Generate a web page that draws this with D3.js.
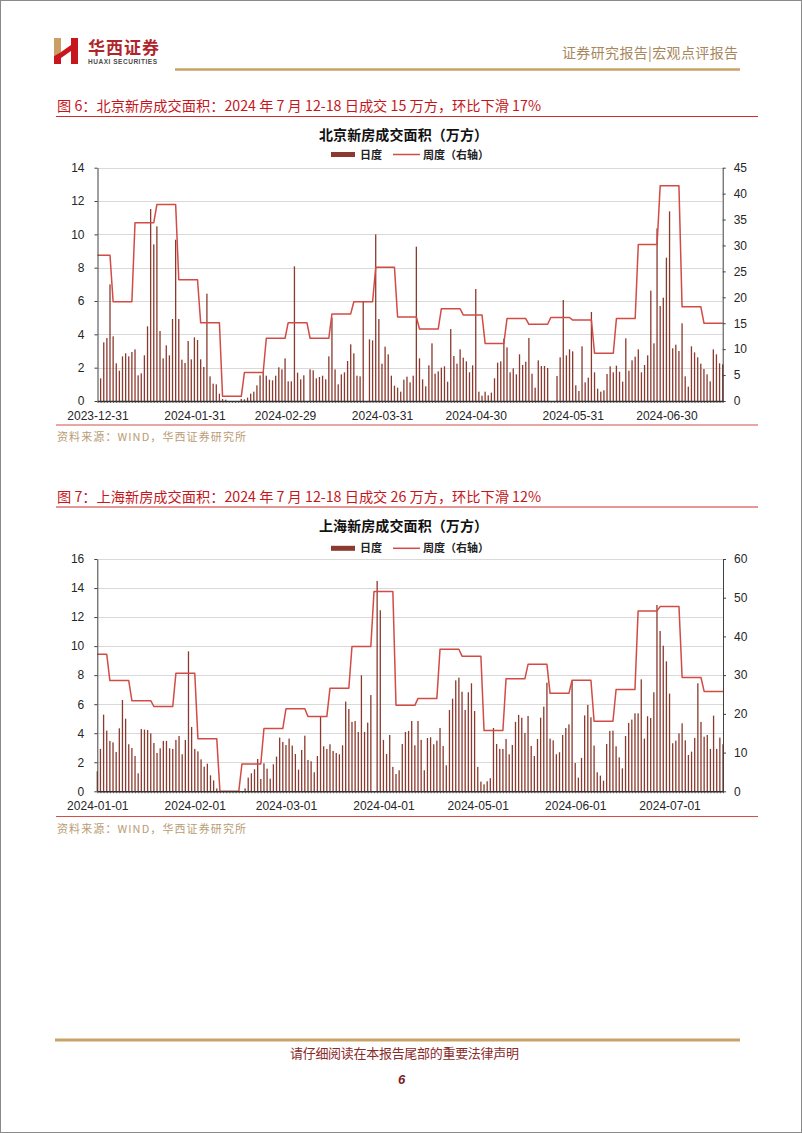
<!DOCTYPE html>
<html><head><meta charset="utf-8">
<script src="https://cdn.jsdelivr.net/npm/d3@7"></script>
<style>body{margin:0;background:#fff}svg{display:block}</style>
</head><body>
<svg id="page" width="802" height="1133"></svg>
<script>
// ---------------- DATA ----------------
// Beijing daily new-home area (万方), one value per day 2023-12-31 .. 2024-07-18
const bjDaily = [null,
1.36,3.52,3.78,7.0,3.88,2.26,1.82,2.68,2.86,2.68,
2.94,3.1,1.54,1.66,2.74,4.48,11.52,9.4,10.48,4.2,
2.56,3.34,2.74,4.92,9.68,4.92,2.48,2.28,3.6,2.5,
3.82,3.66,2.5,2.04,6.44,1.48,1.04,1.0,0.44,0.12,
0.08,0,0,0,0,0.12,0.1,0.2,0.44,0.56,
0.94,1.54,1.72,1.52,1.28,1.24,1.52,2.02,1.9,2.56,
1.18,1.18,8.08,1.7,1.3,1.54,0,1.9,1.84,1.36,
1.44,1.52,1.3,2.68,5.0,1.9,1.0,1.6,1.72,2.4,
3.4,2.86,1.52,1.48,5.96,0,3.7,3.64,10.0,4.92,
2.24,3.26,2.8,1.52,0.92,0.8,0.56,1.28,1.46,1.12,
1.52,9.26,2.56,1.3,0.88,2.14,3.46,1.64,1.78,2.0,
2.08,1.16,4.32,2.7,2.24,3.1,2.6,2.38,1.72,2.14,
6.72,0.56,0.32,0.56,0.34,0.5,1.36,2.3,2.38,3.74,
3.22,1.72,1.96,1.6,2.8,2.16,2.36,3.78,1.64,0.8,
2.44,2.1,2.1,1.98,0,0,1.5,2.62,6.06,2.74,
3.1,2.98,0.94,0.6,3.28,1.12,1.4,5.34,1.72,0.74,
0.56,0.64,1.62,2.08,1.72,2.12,1.76,1.16,3.76,1.82,
2.44,2.66,3.1,1.72,2.16,2.74,6.62,3.46,10.36,5.7,
6.2,8.6,11.38,3.16,3.38,3.0,4.66,1.48,0.86,3.28,
2.92,2.62,2.24,1.92,1.6,1.18,3.1,2.8,2.26,2.2];

// Shanghai daily new-home area (万方), one value per day 2024-01-01 .. 2024-07-18
const shDaily = [
1.38,2.92,5.28,4.18,3.47,3.37,2.71,4.34,6.29,5.0,
3.24,2.98,2.43,1.24,4.29,4.25,4.22,3.99,3.33,2.64,
2.96,3.47,3.47,2.96,2.92,3.54,3.81,2.55,3.54,9.64,
4.43,2.92,2.75,2.2,1.7,1.9,1.1,0.75,0.2,0,
0,0,0,0,0,0,0,0.2,0.94,1.24,
1.52,2.23,0.85,1.93,1.56,0.87,1.86,2.39,3.7,3.4,
3.19,3.63,3.15,2.57,1.49,2.85,3.83,2.16,2.07,1.31,
2.43,5.17,3.1,2.92,3.24,2.78,2.64,2.55,3.17,6.18,
5.67,4.78,4.84,4.09,7.99,4.09,4.73,6.63,0,14.49,
12.47,3.54,2.57,3.88,1.68,1.19,1.45,3.26,4.09,4.16,
4.84,3.17,4.84,3.54,1.45,3.67,3.72,3.24,3.49,4.36,
3.12,1.79,5.6,6.38,7.64,7.83,6.86,5.6,6.82,7.44,
5.53,1.68,0.67,0.48,0.69,0.9,4.36,3.26,2.92,2.92,
3.6,2.55,3.19,4.78,5.26,5.07,4.02,5.19,3.12,2.43,
3.6,5.07,5.83,7.48,3.63,3.51,2.55,2.69,3.88,4.36,
4.61,7.6,1.95,0.94,2.3,5.23,5.95,5.1,3.15,1.31,
1.08,0.73,3.26,4.16,4.18,3.1,2.34,1.58,3.81,4.71,
4.94,5.37,5.37,7.71,3.63,5.17,5.05,6.82,12.83,11.04,
10.03,8.95,6.73,3.31,3.49,3.99,4.68,3.51,2.5,2.73,
3.67,7.44,4.78,3.76,3.88,2.92,5.21,2.92,3.7,3.24];

// weekly periods (Fri..Thu), start dates
const weekStarts = ["2023-12-29","2024-01-05","2024-01-12","2024-01-19","2024-01-26","2024-02-02",
"2024-02-09","2024-02-16","2024-02-23","2024-03-01","2024-03-08","2024-03-15","2024-03-22",
"2024-03-29","2024-04-05","2024-04-12","2024-04-19","2024-04-26","2024-05-03","2024-05-10",
"2024-05-17","2024-05-24","2024-05-31","2024-06-07","2024-06-14","2024-06-21","2024-06-28",
"2024-07-05","2024-07-12"];
const bjWeekly = [28.1,19.15,34.4,37.9,23.4,15.1,0.9,5.5,12.1,15.1,12.1,16.8,19.15,25.8,16.2,
13.9,17.8,16.6,11.1,15.9,14.8,16.1,15.6,9.2,15.9,30.2,41.5,18.2,15.0];
const shWeekly = [35.4,28.6,23.4,21.9,30.5,13.6,0,7.06,16.2,21.3,19.3,26.6,37.4,51.6,22.2,
24.0,36.7,34.9,15.7,29.1,32.8,25.3,28.7,18.1,26.3,46.6,47.7,29.4,25.8];

const bjXTicks = ["2023-12-31","2024-01-31","2024-02-29","2024-03-31","2024-04-30","2024-05-31","2024-06-30"];
const shXTicks = ["2024-01-01","2024-02-01","2024-03-01","2024-04-01","2024-05-01","2024-06-01","2024-07-01"];
const bjLeftTicks = [0,2,4,6,8,10,12,14];
const bjRightTicks = [0,5,10,15,20,25,30,35,40,45];
const shLeftTicks = [0,2,4,6,8,10,12,14,16];
const shRightTicks = [0,10,20,30,40,50,60];
const seriesNames = ["日度","周度（右轴）"];

// ---------------- STYLE ----------------
const BAR = "#8b3a2f", LINE = "#d24b45", RED = "#c4161c", GOLD = "#c9a266";
const CJK = "'Noto Sans CJK SC','Noto Sans',sans-serif";
const LAT = "'Liberation Sans',Arial,sans-serif";

const svg = d3.select("#page");
const parse = d3.timeParse("%Y-%m-%d");

// page frame
svg.append("rect").attr("x",0.5).attr("y",0.5).attr("width",801).attr("height",1132)
  .attr("fill","#fff").attr("stroke","#8a8a8a").attr("stroke-width",1);

// logo
const logo = svg.append("g");
logo.append("polygon").attr("points","54,38 61,38 61,52 54,56").attr("fill","#c9a063");
logo.append("polygon").attr("points","54,56 61,52 61,64 54,64").attr("fill","#c8161d");
logo.append("rect").attr("x",71).attr("y",38).attr("width",7).attr("height",26).attr("fill","#c8161d");
logo.append("polygon").attr("points","61,52 71,45 71,51 61,58").attr("fill","#c8161d");
svg.append("text").attr("x",88).attr("y",54).attr("font-family",CJK).attr("font-weight",700)
  .attr("font-size",17).attr("fill","#b0252a").attr("textLength",71).text("华西证券");
svg.append("text").attr("x",88).attr("y",63.5).attr("font-family",LAT).attr("font-weight",700)
  .attr("font-size",6.5).attr("fill","#4d4d4d").attr("textLength",69).text("HUAXI SECURITIES");
svg.append("text").attr("x",562).attr("y",58).attr("font-family",CJK).attr("font-size",14)
  .attr("fill","#a8875e").attr("textLength",176).text("证券研究报告|宏观点评报告");
svg.append("line").attr("x1",175).attr("x2",740).attr("y1",69.5).attr("y2",69.5)
  .attr("stroke",GOLD).attr("stroke-width",2.5);

// footer
svg.append("line").attr("x1",55).attr("x2",740).attr("y1",1040).attr("y2",1040)
  .attr("stroke",GOLD).attr("stroke-width",3);
svg.append("text").attr("x",290).attr("y",1058).attr("font-family",CJK).attr("font-size",13)
  .attr("fill","#8a2a2a").attr("textLength",229).text("请仔细阅读在本报告尾部的重要法律声明");
svg.append("text").attr("x",398).attr("y",1084).attr("font-family",LAT).attr("font-size",13)
  .attr("font-weight",700).attr("font-style","italic").attr("fill","#7b1e1e").text("6");

function figureHeader(y, title, ruleY){
  svg.append("text").attr("x",57).attr("y",y).attr("font-family",CJK).attr("font-size",14)
    .attr("fill",RED).attr("textLength",484).attr("lengthAdjust","spacingAndGlyphs").text(title);
  svg.append("line").attr("x1",56).attr("x2",758).attr("y1",ruleY).attr("y2",ruleY)
    .attr("stroke","#c9302c").attr("stroke-width",1.2);
}

function drawChart(cfg){
  const g = svg.append("g");
  const start = parse(cfg.start), end = parse(cfg.end);
  const x = d3.scaleTime().domain([start,end]).range([cfg.L,cfg.R]);
  const yL = d3.scaleLinear().domain([0,d3.max(cfg.leftTicks)]).range([cfg.B,cfg.T]);
  const yR = d3.scaleLinear().domain([0,d3.max(cfg.rightTicks)]).range([cfg.B,cfg.T]);
  const days = d3.timeDay.range(start, d3.timeDay.offset(end,1));

  // title & legend
  g.append("text").attr("x",cfg.cx).attr("y",cfg.titleY).attr("text-anchor","middle")
    .attr("font-family",CJK).attr("font-weight",700).attr("font-size",14).attr("fill","#111")
    .attr("textLength",169).text(cfg.title);
  const ly = cfg.legendY;
  g.append("rect").attr("x",331).attr("y",ly-2.5).attr("width",24).attr("height",5).attr("fill",BAR);
  g.append("text").attr("x",360).attr("y",ly+4).attr("font-family",CJK).attr("font-weight",700)
    .attr("font-size",11).attr("fill","#222").text(seriesNames[0]);
  g.append("line").attr("x1",393).attr("x2",420).attr("y1",ly).attr("y2",ly)
    .attr("stroke",LINE).attr("stroke-width",1.5);
  g.append("text").attr("x",423).attr("y",ly+4).attr("font-family",CJK).attr("font-weight",700)
    .attr("font-size",11).attr("fill","#222").attr("textLength",66).text(seriesNames[1]);

  // grid
  g.append("g").selectAll("line").data(cfg.leftTicks.slice(1)).join("line")
    .attr("x1",cfg.L).attr("x2",cfg.R).attr("y1",d=>Math.round(yL(d))+0.5).attr("y2",d=>Math.round(yL(d))+0.5)
    .attr("stroke","#d9d9d9").attr("stroke-width",1);

  // bars
  const barData = days.map((d,i)=>({d, v: cfg.daily[i]})).filter(o=>o.v!=null && o.v>0);
  g.append("g").selectAll("rect").data(barData).join("rect")
    .attr("x",o=>x(o.d)-0.65).attr("width",1.3)
    .attr("y",o=>yL(o.v)).attr("height",o=>yL(0)-yL(o.v)).attr("fill",BAR);

  // weekly line: each week's value held over its seven days
  const pts = [];
  cfg.weekStarts.forEach((ws,i)=>{
    const s = parse(ws);
    for(let k=0;k<7;k++){ const d = d3.timeDay.offset(s,k); if(d>=start && d<=end) pts.push({d, v: cfg.weekly[i]}); }
  });
  g.append("path").datum(pts).attr("d",d3.line().x(p=>x(p.d)).y(p=>yR(p.v)))
    .attr("fill","none").attr("stroke",LINE).attr("stroke-width",1.5).attr("stroke-linejoin","round");

  // axes
  const styleAxis = sel => {
    sel.select(".domain").attr("stroke","#404040");
    sel.selectAll(".tick line").attr("stroke","#404040");
    sel.selectAll("text").attr("font-family",LAT).attr("font-size",12).attr("fill","#262626");
  };
  g.append("g").attr("transform",`translate(${cfg.L},0)`)
    .call(d3.axisLeft(yL).tickValues(cfg.leftTicks).tickSize(3).tickSizeOuter(0).tickPadding(10)).call(styleAxis);
  g.append("g").attr("transform",`translate(${cfg.R},0)`)
    .call(d3.axisRight(yR).tickValues(cfg.rightTicks).tickSize(3).tickSizeOuter(0).tickPadding(8)).call(styleAxis);
  const minor = g.append("g").attr("transform",`translate(0,${cfg.B})`)
    .call(d3.axisBottom(x).tickValues(days).tickSize(2).tickSizeOuter(0).tickFormat(""));
  minor.select(".domain").attr("stroke","#303030").attr("stroke-width",1.6);
  minor.selectAll(".tick line").attr("stroke","#404040").attr("stroke-width",0.8);
  g.append("g").attr("transform",`translate(0,${cfg.B})`)
    .call(d3.axisBottom(x).tickValues(cfg.xTicks.map(parse)).tickSize(0).tickSizeOuter(0)
      .tickPadding(10).tickFormat(d3.timeFormat("%Y-%m-%d")))
    .call(sel=>{ sel.select(".domain").remove(); styleAxis(sel); });

  // bottom red rule and source
  svg.append("line").attr("x1",56).attr("x2",758).attr("y1",cfg.ruleY).attr("y2",cfg.ruleY)
    .attr("stroke","#d2504a").attr("stroke-width",1.2);
  svg.append("text").attr("x",57).attr("y",cfg.ruleY+16).attr("font-family",CJK).attr("font-size",11)
    .attr("fill","#b89c74").attr("textLength",189).text("资料来源：WIND，华西证券研究所");
}

figureHeader(111, "图 6：北京新房成交面积：2024 年 7 月 12-18 日成交 15 万方，环比下滑 17%", 116.5);
drawChart({title:"北京新房成交面积（万方）", cx:403.5, titleY:140, legendY:154.5,
  start:"2023-12-31", end:"2024-07-18", L:97.5, R:722.7, T:167.7, B:401,
  daily:bjDaily, weekly:bjWeekly, weekStarts, xTicks:bjXTicks,
  leftTicks:bjLeftTicks, rightTicks:bjRightTicks, ruleY:425});

figureHeader(502, "图 7：上海新房成交面积：2024 年 7 月 12-18 日成交 26 万方，环比下滑 12%", 507);
drawChart({title:"上海新房成交面积（万方）", cx:403.5, titleY:531, legendY:548.3,
  start:"2024-01-01", end:"2024-07-18", L:97.3, R:723, T:559, B:791.3,
  daily:shDaily, weekly:shWeekly, weekStarts, xTicks:shXTicks,
  leftTicks:shLeftTicks, rightTicks:shRightTicks, ruleY:816.5});
</script>
</body></html>
